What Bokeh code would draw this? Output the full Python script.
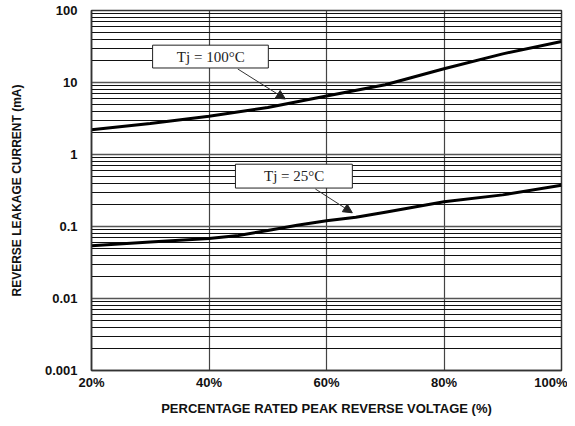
from bokeh.plotting import figure
from bokeh.models import FixedTicker, Arrow, NormalHead
from bokeh.core.properties import value
from bokeh.embed import file_html
from bokeh.resources import INLINE

# ---- data ----
x_ticks = [20, 40, 60, 80, 100]
x_tick_labels = ["20%", "40%", "60%", "80%", "100%"]
y_ticks = [0.001, 0.01, 0.1, 1, 10, 100]
y_tick_labels = ["0.001", "0.01", "0.1", "1", "10", "100"]

tj100_x = [20, 30, 40, 50, 60, 70, 80, 90, 100]
tj100_y = [2.2, 2.7, 3.4, 4.5, 6.5, 9.3, 15.5, 25, 37]

tj25_x = [20, 30, 40, 45, 50, 55, 60, 65, 70, 80, 90, 100]
tj25_y = [0.054, 0.061, 0.068, 0.075, 0.088, 0.104, 0.120, 0.134, 0.158, 0.22, 0.275, 0.375]

label100 = "Tj = 100°C"
label25 = "Tj = 25°C"
# label boxes (x0, x1, y_bottom, y_top), text anchor and arrow (start -> end)
box100 = dict(x0=30.4, x1=50.1, y0=15.9, y1=33.0, tx=40.3, ty=22.9,
              ax0=44.9, ay0=15.4, ax1=53.0, ay1=5.9)
box25 = dict(x0=44.5, x1=64.4, y0=0.342, y1=0.733, tx=54.5, ty=0.50,
             ax0=58.1, ay0=0.332, ax1=64.4, ay1=0.155)

# ---- figure ----
p = figure(width=567, height=418, y_axis_type="log",
           x_range=(20, 100), y_range=(0.001, 100),
           output_backend="svg", toolbar_location=None,
           min_border_left=91, min_border_right=6,
           min_border_top=10, min_border_bottom=45)
p.outline_line_color = "#333333"
p.outline_line_width = 1.5
p.background_fill_color = "white"
p.border_fill_color = "white"

# axes
p.xaxis.ticker = FixedTicker(ticks=x_ticks)
p.xaxis.major_label_overrides = {t: l for t, l in zip(x_ticks, x_tick_labels)}
minor = []
for d in [0.001, 0.01, 0.1, 1, 10]:
    for m in range(2, 10):
        minor.append(d * m)
p.yaxis.ticker = FixedTicker(ticks=y_ticks, minor_ticks=minor)
p.yaxis.major_label_overrides = {t: l for t, l in zip(y_ticks, y_tick_labels)}

for ax in (p.xaxis, p.yaxis):
    ax.major_tick_out = 0
    ax.major_tick_in = 0
    ax.minor_tick_out = 0
    ax.minor_tick_in = 0
    ax.axis_line_color = "#333333"
    ax.axis_line_width = 1.5
    ax.major_label_text_font = "Liberation Sans"
    ax.major_label_text_font_style = "bold"
    ax.major_label_text_font_size = "13px"
    ax.major_label_text_color = "#111111"
    ax.axis_label_text_font = "Liberation Sans"
    ax.axis_label_text_font_style = "bold"
    ax.axis_label_text_color = "#111111"

p.xaxis.axis_label = "PERCENTAGE RATED PEAK REVERSE VOLTAGE (%)"
p.yaxis.axis_label = "REVERSE LEAKAGE CURRENT (mA)"
p.xaxis.axis_label_text_font_size = "13px"
p.yaxis.axis_label_text_font_size = "12px"
p.xaxis.major_label_standoff = 4
p.xaxis.axis_label_standoff = 8
p.yaxis.major_label_standoff = 14
p.yaxis.axis_label_standoff = 18

# grid
p.xgrid.grid_line_color = "#444444"
p.xgrid.grid_line_width = 1.2
p.ygrid.grid_line_color = "#555555"
p.ygrid.grid_line_width = 1.5
p.ygrid.minor_grid_line_color = "#111111"
p.ygrid.minor_grid_line_width = 1

# curves
p.line(tj100_x, tj100_y, line_color="black", line_width=3)
p.line(tj25_x, tj25_y, line_color="black", line_width=3)

# labels
for b, lab in ((box100, label100), (box25, label25)):
    p.quad(left=[b["x0"]], right=[b["x1"]], bottom=[b["y0"]], top=[b["y1"]],
           fill_color="white", line_color="#222222", line_width=1)
    p.text(x=[b["tx"]], y=[b["ty"]], text=[lab], text_align="center",
           text_baseline="middle", text_font=value("Liberation Serif"),
           text_font_size="15px", text_color="#222222")
    p.add_layout(Arrow(end=NormalHead(size=9, fill_color="#222222", line_color="#222222"),
                       x_start=b["ax0"], y_start=b["ay0"], x_end=b["ax1"], y_end=b["ay1"],
                       line_color="#333333", line_width=1))

open("out.html", "w").write(file_html(p, INLINE))
